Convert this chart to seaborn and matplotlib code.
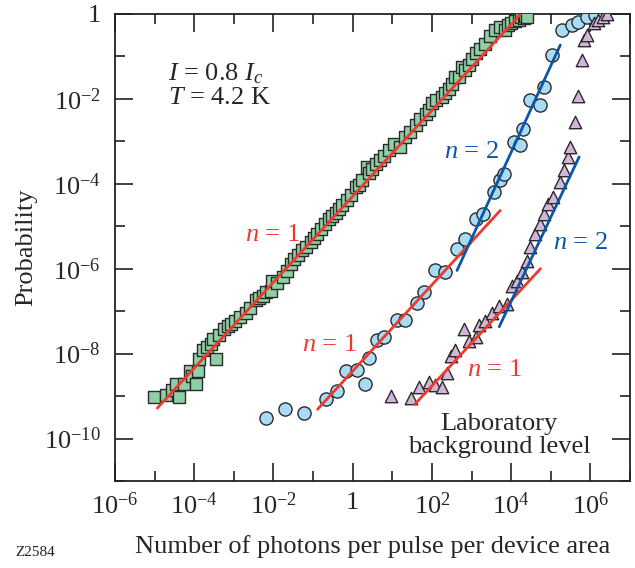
import numpy as np
import matplotlib
matplotlib.use("Agg")
import matplotlib.pyplot as plt
import seaborn as sns
from matplotlib.ticker import FixedLocator, FuncFormatter, NullFormatter

# ---- data ----
sq_x = [9.9e-6, 1.95e-5, 2.8e-5, 3.5e-5, 4.2e-5, 5.6e-5, 7.6e-5, 9.0e-5, 1.1e-4, 1.26e-4,
        1.35e-4, 1.7e-4, 2.1e-4, 2.6e-4, 3.0e-4, 3.5e-4, 4.3e-4, 5.7e-4, 7.0e-4, 8.5e-4,
        1.1e-3, 1.4e-3, 2.0e-3, 2.6e-3, 3.6e-3, 4.3e-3, 5.3e-3, 6.5e-3, 8.6e-3, 9.3e-3,
        1.2e-2, 1.7e-2, 2.2e-2, 2.7e-2, 3.3e-2, 4.2e-2, 5.2e-2, 6.8e-2, 8.7e-2, 0.105,
        0.126, 0.16, 0.2, 0.25, 0.3, 0.37, 0.45, 0.54, 0.7, 0.89,
        1.19, 1.45, 1.7, 2.3, 2.6, 3.1, 3.8, 4.8, 6.2, 8.1,
        11, 16, 21, 28, 39, 50, 69, 85, 100, 130,
        180, 220, 270, 320, 390, 480, 560, 680, 850, 1000,
        1260, 1600, 2240, 3000, 4000, 5200, 7000, 8500, 1.0e4, 1.25e4,
        1.55e4, 1.8e4, 2.1e4, 2.3e4, 2.5e4]
sq_y = [9.5e-10, 1.05e-9, 1.4e-9, 1.9e-9, 9.5e-10, 1.95e-9, 3.8e-9, 3.0e-9, 1.95e-9, 3.9e-9,
        7.5e-9, 1.23e-8, 1.4e-8, 1.7e-8, 2.2e-8, 7.5e-9, 2.8e-8, 3.9e-8, 4.5e-8, 5.1e-8,
        6.0e-8, 7.1e-8, 9.3e-8, 1.2e-7, 1.8e-7, 2.0e-7, 2.3e-7, 2.9e-7, 3.0e-7, 5.2e-7,
        4.5e-7, 6.3e-7, 9.0e-7, 1.3e-6, 1.7e-6, 2.1e-6, 2.7e-6, 3.3e-6, 4.2e-6, 5.2e-6,
        6.7e-6, 8.5e-6, 1.15e-5, 1.5e-5, 1.7e-5, 2.1e-5, 2.5e-5, 3.1e-5, 4.2e-5, 5.4e-5,
        8.3e-5, 9.5e-5, 1.2e-4, 2.5e-4, 1.8e-4, 2.2e-4, 3.0e-4, 3.6e-4, 4.6e-4, 6.2e-4,
        8.5e-4, 7.4e-4, 1.27e-3, 1.7e-3, 2.4e-3, 3.3e-3, 4.3e-3, 5.6e-3, 7.8e-3, 9.5e-3,
        1.1e-2, 1.4e-2, 1.7e-2, 2.3e-2, 3.3e-2, 3.3e-2, 5.7e-2, 4.7e-2, 6.3e-2, 8.5e-2,
        0.12, 0.15, 0.2, 0.3, 0.42, 0.5, 0.42, 0.55, 0.61, 0.68,
        0.72, 0.83, 0.79, 0.92, 0.87]

ci_x = [6.6e-3, 2.0e-2, 5.9e-2, 0.21, 0.41, 0.66, 1.3, 2.0, 2.6, 4.2,
        6.2, 13, 21, 43, 63, 120, 220, 430, 700, 1260,
        2000, 3600, 5300, 6500, 1.15e4, 1.7e4, 2.0e4, 3.0e4, 5.5e4, 6.6e4,
        1.07e5, 1.9e5, 3.4e5, 5.0e5, 8.1e5, 1.3e6]
ci_y = [3.0e-10, 4.9e-10, 3.9e-10, 8.5e-10, 1.3e-9, 3.9e-9, 4.1e-9, 1.95e-9, 7.8e-9, 2.1e-8,
        2.4e-8, 6.2e-8, 6.2e-8, 1.6e-7, 2.8e-7, 9.1e-7, 8.3e-7, 2.9e-6, 5.0e-6, 1.5e-5,
        1.9e-5, 6.3e-5, 1.2e-4, 1.7e-4, 9.6e-4, 8.1e-4, 2.0e-3, 9.3e-3, 7.1e-3, 0.019,
        0.107, 0.42, 0.55, 0.66, 0.86, 0.95]

tri_x = [9.5, 29, 47, 83, 123, 180, 240, 295, 390, 630,
         850, 1260, 1500, 2240, 3300, 4900, 7800, 1.05e4, 1.4e4, 1.9e4,
         2.5e4, 3.0e4, 4.1e4, 5.5e4, 6.6e4, 8.7e4, 1.17e5, 1.7e5, 2.1e5, 2.8e5,
         3.1e5, 4.2e5, 5.0e5, 6.0e5, 6.8e5, 8.1e5, 1.2e6, 1.6e6, 2.1e6, 2.6e6]
tri_y = [1.0e-9, 8.9e-10, 1.6e-9, 2.1e-9, 1.8e-9, 1.6e-9, 3.5e-9, 8.8e-9, 1.2e-8, 3.8e-8,
         2.0e-8, 2.4e-8, 4.6e-8, 5.9e-8, 9.3e-8, 1.35e-7, 1.5e-7, 4.0e-7, 5.2e-7, 8.3e-7,
         1.5e-6, 3.2e-6, 6.6e-6, 1.15e-5, 1.95e-5, 3.4e-5, 4.9e-5, 1.1e-4, 2.1e-4, 4.3e-4,
         7.4e-4, 2.9e-3, 0.012, 0.082, 0.24, 0.32, 0.60, 0.72, 0.86, 1.0]

# fit lines (end points)
fit1_x = [1.17e-5, 1.74e4]
fit1_y = [5.2e-10, 1.0]
fit2a_x = [0.13, 5300]
fit2a_y = [4.9e-10, 2.35e-5]
fit2b_x = [430, 1.74e5]
fit2b_y = [9.1e-7, 0.186]
fit3a_x = [37, 5.5e4]
fit3a_y = [6.4e-10, 1.0e-6]
fit3b_x = [5000, 5.2e5]
fit3b_y = [4.3e-8, 4.3e-4]

x_major = [1e-6, 1e-4, 1e-2, 1, 1e2, 1e4, 1e6]
x_minor = [1e-5, 1e-3, 1e-1, 1e1, 1e3, 1e5, 1e7]
y_major = [1e-10, 1e-8, 1e-6, 1e-4, 1e-2, 1]
y_minor = [1e-11, 1e-9, 1e-7, 1e-5, 1e-3, 1e-1]

# ---- style ----
sns.set_style("ticks")
plt.rcParams["font.family"] = ["Liberation Serif", "DejaVu Serif"]
plt.rcParams["mathtext.fontset"] = "custom"
plt.rcParams["mathtext.rm"] = "Liberation Serif"
plt.rcParams["mathtext.it"] = "Liberation Serif:italic"
plt.rcParams["mathtext.bf"] = "Liberation Serif:bold"

RED = "#ee3a2e"
BLUE = "#0b56a6"
GREEN = "#8ecfa6"
LBLUE = "#a7dcf4"
PURPLE = "#d2b6da"
EDGE = "#2a2a2a"
FS = 19

fig = plt.figure(figsize=(6.35, 5.68), dpi=100)
ax = fig.add_axes([115 / 635, 1 - 481 / 568, (630 - 115) / 635, (481 - 14) / 568])
ax.set_xscale("log")
ax.set_yscale("log")

sns.scatterplot(x=sq_x, y=sq_y, marker="s", s=75, color=GREEN, edgecolor=EDGE,
                linewidth=1.0, ax=ax, zorder=3)
sns.scatterplot(x=ci_x, y=ci_y, marker="o", s=90, color=LBLUE, edgecolor=EDGE,
                linewidth=1.0, ax=ax, zorder=3)
sns.scatterplot(x=tri_x, y=tri_y, marker="^", s=80, color=PURPLE, edgecolor=EDGE,
                linewidth=1.0, ax=ax, zorder=3)

for fx, fy, c in [(fit1_x, fit1_y, RED), (fit2a_x, fit2a_y, RED), (fit2b_x, fit2b_y, BLUE),
                  (fit3a_x, fit3a_y, RED), (fit3b_x, fit3b_y, BLUE)]:
    sns.lineplot(x=fx, y=fy, color=c, linewidth=2.0, ax=ax, zorder=4)

ax.set_xlim(1e-6, 1e7)
ax.set_ylim(1e-11, 1)


def fmt(v, pos):
    e = int(round(np.log10(v)))
    return "1" if e == 0 else r"$10^{%d}$" % e


ax.xaxis.set_major_locator(FixedLocator(x_major))
ax.xaxis.set_minor_locator(FixedLocator(x_minor))
ax.yaxis.set_major_locator(FixedLocator(y_major))
ax.yaxis.set_minor_locator(FixedLocator(y_minor))
ax.xaxis.set_major_formatter(FuncFormatter(fmt))
ax.yaxis.set_major_formatter(FuncFormatter(fmt))
ax.xaxis.set_minor_formatter(NullFormatter())
ax.yaxis.set_minor_formatter(NullFormatter())

ax.tick_params(which="both", direction="in", top=True, right=True, width=1.2, color="#222222")
ax.tick_params(which="major", length=13, labelsize=FS)
ax.tick_params(axis="x", which="major", pad=8)
ax.tick_params(axis="y", which="major", pad=10)
ax.tick_params(which="minor", length=7)
for sp in ax.spines.values():
    sp.set_linewidth(1.3)
    sp.set_color("#222222")

ax.set_xlabel("Number of photons per pulse per device area", fontsize=FS, labelpad=12)
ax.set_ylabel("Probability", fontsize=FS, labelpad=5)

T = ax.transAxes
ax.text(0.103, 0.872, r"$I$ = 0.8 $I_c$", transform=T, fontsize=FS, ha="left", va="center")
ax.text(0.103, 0.820, r"$T$ = 4.2 K", transform=T, fontsize=FS, ha="left", va="center")
ax.text(0.305, 0.527, r"$n$ = 1", transform=T, fontsize=FS, color=RED, ha="center", va="center")
ax.text(0.417, 0.291, r"$n$ = 1", transform=T, fontsize=FS, color=RED, ha="center", va="center")
ax.text(0.736, 0.238, r"$n$ = 1", transform=T, fontsize=FS, color=RED, ha="center", va="center")
ax.text(0.693, 0.704, r"$n$ = 2", transform=T, fontsize=FS, color=BLUE, ha="center", va="center")
ax.text(0.903, 0.510, r"$n$ = 2", transform=T, fontsize=FS, color=BLUE, ha="center", va="center")
ax.text(0.746, 0.097, "Laboratory\nbackground level", transform=T, fontsize=FS,
        ha="center", va="center", linespacing=1.05)

fig.text(15 / 635, 1 - 553 / 568, "Z2584", fontsize=11, ha="left", va="center", color="#222222")

fig.savefig("out.png", dpi=100)
